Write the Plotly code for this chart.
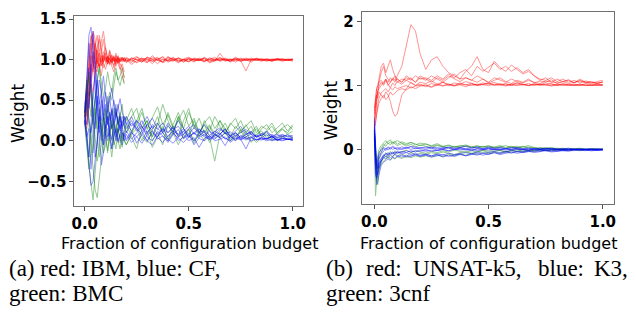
import plotly.graph_objects as go

# ---------------- Panel (a) data ----------------
x_a_full = [0.0, 0.01, 0.02, 0.03, 0.04, 0.05, 0.06, 0.07, 0.08, 0.09,
            0.10, 0.11, 0.12, 0.13, 0.14, 0.15, 0.16, 0.17, 0.18, 0.19,
            0.2, 0.225, 0.25, 0.275, 0.3, 0.325, 0.35, 0.375, 0.4, 0.425,
            0.45, 0.475, 0.5, 0.525, 0.55, 0.575, 0.6, 0.625, 0.65, 0.675,
            0.7, 0.725, 0.75, 0.775, 0.8, 0.825, 0.85, 0.875, 0.9, 0.925,
            0.95, 0.975, 1.0]
x_a_short = [0.0, 0.01, 0.02, 0.03, 0.04, 0.05, 0.06, 0.07, 0.08, 0.09,
             0.10, 0.11, 0.12, 0.13, 0.14, 0.15, 0.16, 0.17, 0.18, 0.19]

a_red = [
    [0.30, 0.55, 0.95, 1.25, 1.32, 1.10, 0.95, 1.02, 0.98, 1.05, 0.97, 1.03, 1.00, 0.96, 1.04, 0.99, 1.02, 0.97, 1.01, 1.00,
     0.98, 1.02, 1.00, 0.97, 1.03, 1.01, 0.99, 1.04, 0.98, 1.00, 1.02, 0.97, 1.01, 1.00, 0.99, 1.03, 0.98, 1.01, 1.00, 1.02, 0.99, 1.00, 0.98, 1.01, 1.00, 0.99, 1.01, 1.00, 0.99, 1.01, 1.00, 1.00, 1.00],
    [0.25, 0.40, 0.70, 0.95, 0.85, 1.15, 1.30, 1.05, 0.92, 0.98, 1.08, 0.95, 1.02, 0.99, 0.93, 1.05, 1.00, 0.98, 1.03, 0.97,
     1.01, 0.96, 1.03, 1.00, 0.98, 1.05, 0.99, 0.97, 1.02, 1.00, 0.96, 1.01, 1.03, 0.99, 1.00, 0.98, 1.02, 1.00, 0.99, 1.01, 0.97, 1.00, 1.02, 0.99, 1.00, 1.01, 0.99, 1.00, 0.98, 1.00, 1.01, 0.99, 0.99],
    [0.35, 0.30, 0.60, 0.80, 1.05, 0.90, 0.85, 1.10, 1.25, 1.35, 1.15, 1.00, 0.95, 1.05, 0.98, 1.02, 0.96, 1.01, 0.99, 1.03,
     0.97, 1.00, 1.04, 0.98, 1.01, 0.95, 1.02, 1.00, 0.99, 1.03, 0.98, 1.00, 1.01, 0.97, 1.02, 0.99, 1.00, 1.03, 0.98, 1.00, 1.01, 0.99, 1.00, 1.02, 0.99, 1.00, 1.01, 0.99, 1.00, 1.01, 1.00, 0.99, 1.01],
    [0.40, 0.20, 0.45, 0.75, 1.00, 1.20, 1.05, 0.90, 0.95, 1.10, 1.02, 0.94, 1.06, 0.98, 1.00, 0.95, 1.03, 1.00, 0.97, 1.02,
     1.00, 0.94, 0.99, 1.02, 0.97, 1.00, 1.03, 0.96, 1.00, 0.98, 1.02, 1.00, 0.97, 1.01, 0.99, 1.02, 1.00, 0.98, 1.08, 0.99, 1.00, 0.97, 1.01, 1.00, 0.99, 1.02, 1.00, 0.98, 1.00, 1.01, 0.99, 1.00, 1.00],
    [0.30, 0.65, 1.10, 1.30, 1.20, 0.95, 1.00, 1.08, 0.97, 1.02, 0.99, 1.04, 0.97, 1.00, 1.03, 0.98, 1.01, 0.99, 1.02, 0.98,
     1.03, 0.99, 0.97, 1.02, 1.00, 0.98, 1.01, 1.03, 0.97, 1.00, 1.02, 0.99, 0.98, 1.01, 1.00, 0.97, 1.02, 1.00, 0.99, 1.01, 0.98, 1.02, 1.00, 0.99, 1.01, 1.00, 0.98, 1.01, 1.00, 0.99, 1.01, 1.00, 0.98],
    [0.20, 0.35, 0.50, 0.70, 0.90, 1.00, 1.15, 1.25, 1.05, 0.90, 0.96, 1.04, 1.00, 0.97, 1.02, 1.00, 0.95, 1.01, 1.03, 0.99,
     0.96, 1.02, 1.00, 0.97, 1.03, 1.00, 0.95, 1.01, 0.99, 1.02, 0.97, 1.00, 1.01, 0.98, 1.00, 1.02, 0.96, 0.99, 1.01, 1.00, 0.98, 1.03, 0.99, 0.86, 1.00, 1.01, 0.99, 1.00, 0.98, 1.01, 1.00, 0.99, 1.00],
    [0.45, 0.60, 0.85, 1.05, 0.95, 0.88, 1.12, 1.00, 0.93, 1.05, 1.00, 0.97, 1.02, 1.06, 0.98, 1.00, 0.97, 1.03, 1.00, 0.98,
     1.02, 0.98, 1.01, 0.99, 0.96, 1.03, 1.00, 0.98, 1.04, 0.99, 1.00, 0.97, 1.02, 1.00, 0.99, 1.01, 0.97, 1.00, 1.02, 0.99, 1.00, 1.01, 0.98, 1.00, 1.02, 0.99, 1.00, 1.01, 0.99, 1.00, 0.99, 1.01, 1.00],
    [0.30, 0.45, 0.80, 1.15, 1.35, 1.25, 0.98, 0.92, 1.05, 0.97, 1.03, 0.99, 0.95, 1.02, 1.00, 0.97, 1.04, 0.98, 1.00, 1.02,
     0.99, 1.01, 0.96, 1.00, 1.02, 0.98, 1.00, 0.97, 1.03, 1.01, 0.99, 1.00, 0.98, 1.02, 1.01, 0.98, 1.00, 0.99, 1.03, 0.98, 1.00, 1.01, 0.99, 1.00, 0.97, 1.01, 1.00, 0.99, 1.01, 1.00, 0.98, 1.00, 1.01],
]
a_red_short = [
    [0.30, 0.50, 0.90, 1.20, 1.00, 0.80, 1.05, 1.30, 1.15, 0.95, 0.88, 1.00, 1.10, 0.92, 0.85, 0.98, 1.05, 0.90, 0.80, 0.72],
    [0.25, 0.15, 0.40, 0.70, 0.60, 0.85, 1.00, 0.90, 1.10, 1.25, 1.05, 0.95, 1.12, 1.00, 0.90, 1.08, 0.95, 0.88, 0.95, 0.85],
    [0.35, 0.70, 0.55, 0.95, 1.25, 1.10, 0.90, 0.95, 0.80, 1.00, 1.15, 1.02, 0.93, 0.98, 1.05, 0.92, 1.00, 0.95, 0.90, 0.78],
]
a_blue = [
    [0.30, 0.80, 1.30, 1.40, 1.10, 0.60, 0.30, 0.10, 0.40, 0.55, 0.30, 0.20, 0.35, 0.15, 0.25, 0.40, 0.20, 0.12, 0.25, 0.18,
     0.10, 0.22, 0.15, 0.08, 0.20, 0.12, 0.05, 0.15, 0.10, 0.18, 0.07, 0.12, 0.04, 0.10, 0.15, 0.06, 0.12, 0.03, 0.09, 0.14, 0.05, 0.10, 0.02, 0.08, 0.12, 0.04, 0.07, 0.02, 0.06, 0.03, 0.05, 0.02, 0.03],
    [0.25, 0.00, -0.30, -0.55, -0.50, -0.20, 0.10, 0.30, 0.15, -0.05, 0.20, 0.05, 0.10, -0.10, 0.05, 0.15, 0.00, 0.08, -0.05, 0.10,
     0.02, 0.12, -0.03, 0.08, 0.00, 0.10, 0.04, -0.02, 0.06, 0.12, 0.00, 0.05, 0.09, -0.05, 0.04, 0.08, 0.01, 0.06, 0.10, 0.02, 0.05, 0.00, 0.07, 0.03, 0.05, 0.01, 0.04, 0.02, 0.06, 0.01, 0.03, 0.02, 0.01],
    [0.35, 0.60, 0.40, 1.00, 1.35, 0.90, 0.50, 0.20, 0.00, 0.30, 0.45, 0.25, 0.10, 0.30, 0.50, 0.35, 0.20, 0.30, 0.15, 0.25,
     0.30, 0.18, 0.25, 0.12, 0.20, 0.28, 0.15, 0.10, 0.22, 0.14, 0.18, 0.08, 0.15, 0.20, 0.10, 0.13, 0.07, 0.12, 0.16, 0.09, 0.11, 0.06, 0.10, 0.14, 0.08, 0.05, 0.09, 0.06, 0.08, 0.04, 0.07, 0.05, 0.06],
    [0.30, 0.10, -0.20, 0.20, 0.60, 0.80, 0.40, 0.00, -0.30, -0.15, 0.10, 0.30, 0.05, -0.10, 0.15, 0.00, 0.10, 0.20, 0.05, 0.00,
     0.08, -0.02, 0.05, 0.12, 0.00, -0.05, 0.06, 0.10, 0.02, -0.03, 0.05, 0.08, 0.00, 0.04, -0.08, 0.03, 0.06, 0.00, 0.02, 0.05, -0.02, 0.03, 0.01, 0.04, 0.00, 0.02, 0.01, 0.03, 0.00, 0.02, 0.01, 0.02, 0.01],
    [0.20, 0.45, 0.90, 0.70, 0.35, 0.15, 0.45, 0.75, 0.60, 0.30, 0.15, 0.40, 0.55, 0.30, 0.20, 0.35, 0.25, 0.15, 0.30, 0.22,
     0.15, 0.25, 0.12, 0.20, 0.30, 0.15, 0.22, 0.10, 0.18, 0.12, 0.25, 0.15, 0.08, 0.16, 0.10, 0.20, 0.12, 0.08, 0.14, 0.10, 0.06, 0.12, 0.18, 0.08, 0.10, 0.05, 0.09, 0.12, 0.06, 0.08, 0.05, 0.07, 0.06],
    [0.40, 0.70, 1.20, 0.80, 0.20, -0.20, -0.05, 0.30, 0.50, 0.35, 0.10, 0.00, 0.20, 0.40, 0.25, 0.05, 0.15, 0.30, 0.10, 0.05,
     0.12, 0.02, 0.10, 0.18, 0.05, 0.00, 0.12, 0.06, -0.02, 0.08, 0.14, 0.03, 0.07, 0.00, 0.10, 0.05, 0.02, 0.08, 0.04, -0.06, 0.06, 0.02, 0.05, 0.01, 0.04, 0.07, 0.02, 0.03, 0.05, 0.01, 0.03, 0.02, 0.02],
    [0.30, 0.20, 0.50, 0.85, 1.10, 1.00, 0.70, 0.45, 0.60, 0.80, 0.55, 0.35, 0.50, 0.65, 0.45, 0.30, 0.40, 0.52, 0.35, 0.28,
     0.20, 0.30, 0.15, 0.25, 0.10, 0.18, 0.08, 0.15, 0.05, 0.12, 0.08, 0.15, 0.04, 0.10, 0.06, 0.12, 0.02, 0.08, 0.04, 0.10, 0.03, 0.07, 0.02, 0.05, 0.08, 0.01, 0.04, 0.02, 0.05, 0.01, 0.03, 0.02, 0.01],
    [0.25, 0.05, 0.15, -0.35, -0.10, 0.25, 0.55, 0.40, 0.10, -0.05, 0.15, 0.30, 0.10, 0.02, 0.20, 0.10, -0.02, 0.08, 0.15, 0.05,
     0.00, 0.10, 0.05, -0.03, 0.07, 0.12, 0.02, 0.06, 0.00, 0.09, 0.04, -0.02, 0.05, 0.10, 0.03, 0.00, 0.06, 0.02, 0.08, 0.03, 0.00, 0.05, 0.02, -0.10, 0.04, 0.01, 0.03, 0.00, 0.02, 0.01, 0.00, 0.02, 0.01],
    [0.35, 0.50, 0.25, 0.10, 0.30, 0.55, 0.75, 0.50, 0.25, 0.40, 0.60, 0.45, 0.25, 0.38, 0.20, 0.30, 0.45, 0.25, 0.18, 0.30,
     0.22, 0.12, 0.25, 0.18, 0.08, 0.20, 0.14, 0.22, 0.10, 0.16, 0.05, 0.12, 0.18, 0.08, 0.14, 0.10, 0.04, 0.12, 0.08, 0.15, 0.06, 0.10, 0.04, 0.08, 0.11, 0.05, 0.07, 0.10, 0.04, 0.06, 0.08, 0.05, 0.04],
]
a_green = [
    [0.30, 0.10, -0.30, -0.55, -0.73, -0.40, 0.00, 0.30, 0.10, -0.15, -0.05, 0.15, 0.00, -0.20, 0.05, 0.20, 0.00, -0.10, 0.10, 0.00,
     -0.05, 0.10, 0.20, 0.05, -0.02, 0.15, 0.30, 0.10, 0.00, 0.20, 0.35, 0.15, 0.05, 0.25, 0.10, 0.00, 0.18, 0.05, 0.12, 0.22, 0.08, 0.00, 0.15, 0.05, 0.10, 0.18, 0.06, 0.12, 0.02, 0.10, 0.15, 0.08, 0.12],
    [0.35, 0.60, 0.85, 0.55, 0.20, 0.40, 0.75, 0.90, 0.50, 0.20, 0.35, 0.55, 0.30, 0.15, 0.40, 0.25, 0.10, 0.30, 0.45, 0.20,
     0.10, 0.30, 0.40, 0.15, 0.25, 0.05, 0.20, 0.45, 0.25, 0.10, 0.30, 0.15, 0.35, 0.20, 0.05, 0.25, 0.12, 0.30, 0.18, 0.08, 0.22, 0.15, 0.25, 0.10, 0.18, 0.05, 0.15, 0.20, 0.10, 0.16, 0.22, 0.12, 0.20],
    [0.25, 0.00, -0.20, 0.10, 0.35, 0.05, -0.25, -0.10, 0.20, 0.30, 0.05, -0.15, 0.10, 0.25, 0.00, -0.10, 0.15, 0.05, -0.08, 0.10,
     0.20, 0.05, -0.10, 0.15, 0.25, 0.00, 0.10, -0.05, 0.20, 0.08, 0.30, 0.02, 0.15, -0.03, 0.10, 0.20, 0.05, -0.25, 0.08, 0.15, 0.00, 0.10, 0.04, 0.12, -0.02, 0.08, 0.12, 0.03, 0.06, 0.00, 0.05, 0.08, 0.03],
    [0.30, 0.50, 0.30, 0.05, -0.15, 0.20, 0.50, 0.35, 0.10, 0.25, 0.40, 0.20, 0.35, 0.15, 0.30, 0.45, 0.20, 0.35, 0.15, 0.30,
     0.25, 0.40, 0.20, 0.35, 0.15, 0.28, 0.42, 0.20, 0.32, 0.15, 0.25, 0.38, 0.18, 0.28, 0.10, 0.22, 0.30, 0.15, 0.25, 0.10, 0.20, 0.28, 0.12, 0.18, 0.25, 0.10, 0.18, 0.14, 0.22, 0.10, 0.16, 0.20, 0.14],
    [0.20, -0.10, -0.35, -0.15, 0.15, 0.40, 0.10, -0.20, -0.05, 0.20, 0.05, -0.12, 0.08, 0.20, -0.05, 0.05, 0.15, -0.02, 0.10, 0.02,
     -0.05, 0.08, 0.15, 0.00, 0.12, -0.08, 0.05, 0.18, 0.02, 0.10, -0.05, 0.08, 0.14, 0.00, 0.06, 0.12, -0.02, 0.08, 0.04, 0.10, 0.00, 0.06, 0.12, 0.02, 0.05, -0.02, 0.04, 0.08, 0.00, 0.04, 0.06, 0.02, 0.04],
    [0.40, 0.75, 0.55, 0.30, 0.60, 0.35, 0.15, 0.40, 0.25, 0.05, 0.20, 0.38, 0.15, 0.00, 0.22, 0.10, 0.30, 0.12, 0.00, 0.15,
     0.30, 0.10, 0.25, 0.40, 0.15, 0.05, 0.22, 0.12, 0.35, 0.18, 0.05, 0.25, 0.40, 0.15, 0.28, 0.10, 0.20, 0.08, 0.25, 0.15, 0.05, 0.18, 0.10, 0.20, 0.08, 0.15, 0.05, 0.12, 0.18, 0.08, 0.14, 0.10, 0.18],
]
a_green_short = [
    [0.30, 0.55, 0.80, 0.60, 0.35, 0.50, 0.75, 0.90, 0.70, 0.55, 0.65, 0.85, 0.70, 0.60, 0.80, 0.90, 0.75, 0.68, 0.80, 0.70],
    [0.25, 0.40, 0.20, -0.10, -0.40, -0.60, -0.70, -0.45, -0.20, 0.05, 0.25, 0.45, 0.60, 0.50, 0.70, 0.85, 0.75, 0.80, 0.90, 0.78],
]

# ---------------- Panel (b) data ----------------
x_b = [0.0, 0.005, 0.01, 0.015, 0.02, 0.03, 0.04, 0.05, 0.06, 0.07, 0.08, 0.09, 0.1, 0.12, 0.14, 0.16, 0.18, 0.2,
       0.225, 0.25, 0.275, 0.3, 0.325, 0.35, 0.375, 0.4, 0.425, 0.45, 0.475, 0.5, 0.525, 0.55, 0.575, 0.6,
       0.625, 0.65, 0.675, 0.7, 0.725, 0.75, 0.775, 0.8, 0.825, 0.85, 0.875, 0.9, 0.925, 0.95, 0.975, 1.0]

b_red = [
    [0.50, 0.70, 0.85, 0.90, 0.95, 1.00, 1.05, 1.10, 1.00, 1.05, 1.10, 1.05, 1.15, 1.30, 1.60, 1.95, 1.85, 1.50,
     1.25, 1.40, 1.45, 1.30, 1.20, 1.15, 1.10, 1.12, 1.08, 1.15, 1.10, 1.05, 1.12, 1.08, 1.05, 1.10, 1.06, 1.04, 1.08, 1.05, 1.03, 1.07, 1.05, 1.04, 1.06, 1.03, 1.05, 1.07, 1.04, 1.05, 1.03, 1.05],
    [0.60, 0.75, 0.85, 0.80, 0.90, 0.85, 0.80, 0.90, 0.85, 0.75, 0.60, 0.52, 0.55, 0.85, 0.95, 1.05, 1.00, 1.02,
     0.98, 1.03, 1.00, 1.05, 1.02, 1.00, 1.04, 1.01, 1.03, 1.00, 1.02, 1.04, 1.01, 1.03, 1.00, 1.02, 1.04, 1.01, 1.03, 1.00, 1.02, 1.01, 1.03, 1.00, 1.02, 1.01, 1.00, 1.02, 1.01, 1.00, 1.02, 1.01],
    [0.45, 0.55, 0.75, 0.95, 1.05, 1.20, 1.30, 1.15, 1.10, 1.05, 1.12, 1.08, 1.10, 1.05, 1.12, 1.08, 1.15, 1.10,
     1.12, 1.08, 1.15, 1.10, 1.18, 1.12, 1.20, 1.25, 1.15, 1.30, 1.22, 1.28, 1.35, 1.25, 1.30, 1.22, 1.28, 1.20, 1.25, 1.15, 1.10, 1.08, 1.12, 1.06, 1.10, 1.05, 1.08, 1.04, 1.07, 1.05, 1.03, 1.06],
    [0.55, 0.80, 0.95, 1.00, 1.10, 1.30, 1.35, 1.20, 1.30, 1.40, 1.25, 1.15, 1.10, 1.05, 1.15, 1.10, 1.05, 1.12,
     1.08, 1.15, 1.10, 1.05, 1.12, 1.18, 1.10, 1.22, 1.30, 1.45, 1.25, 1.20, 1.38, 1.28, 1.22, 1.32, 1.25, 1.18, 1.22, 1.15, 1.08, 1.12, 1.05, 1.10, 1.06, 1.09, 1.04, 1.08, 1.05, 1.06, 1.04, 1.05],
    [0.30, 0.45, 0.60, 0.70, 0.80, 0.88, 0.92, 0.95, 0.90, 0.96, 0.93, 0.98, 0.95, 0.97, 1.00, 0.96, 0.99, 1.00,
     1.01, 0.98, 1.02, 1.00, 1.01, 0.99, 1.02, 1.01, 1.00, 1.02, 1.01, 1.00, 1.02, 1.01, 1.02, 1.00, 1.01, 1.02, 1.00, 1.01, 1.02, 1.01, 1.00, 1.02, 1.01, 1.00, 1.01, 1.02, 1.00, 1.01, 1.00, 1.01],
    [0.35, 0.40, 0.55, 0.65, 0.72, 0.80, 0.85, 0.78, 0.82, 0.90, 0.85, 0.88, 0.92, 0.95, 0.93, 0.98, 0.95, 0.99,
     1.00, 0.97, 1.01, 0.99, 1.02, 1.00, 1.01, 0.98, 1.02, 1.00, 1.01, 1.03, 1.00, 1.01, 0.99, 1.02, 1.00, 1.01, 1.00, 1.02, 1.00, 1.01, 0.99, 1.01, 1.00, 1.01, 1.00, 1.00, 1.01, 1.00, 1.01, 1.00],
    [0.65, 0.85, 0.95, 1.00, 1.05, 1.08, 1.02, 1.10, 1.05, 1.12, 1.08, 1.15, 1.05, 1.10, 1.08, 1.12, 1.05, 1.15,
     1.10, 1.05, 1.12, 1.08, 1.15, 1.10, 1.06, 1.12, 1.08, 1.05, 1.10, 1.04, 1.08, 1.12, 1.06, 1.03, 1.08, 1.05, 1.10, 1.04, 1.07, 1.05, 1.09, 1.03, 1.06, 1.08, 1.04, 1.10, 1.05, 1.03, 1.06, 1.08],
    [0.40, 0.60, 0.80, 0.92, 0.98, 1.05, 1.00, 1.08, 1.02, 0.96, 1.04, 1.00, 1.06, 1.02, 1.08, 1.04, 1.00, 1.05,
     1.03, 1.07, 1.02, 1.05, 1.00, 1.04, 1.02, 1.06, 1.03, 1.01, 1.04, 1.02, 1.05, 1.01, 1.03, 1.00, 1.04, 1.02, 1.00, 1.03, 1.01, 1.04, 1.02, 1.00, 1.03, 1.01, 1.02, 1.00, 1.03, 1.01, 1.02, 1.01],
]
b_blue = [
    [0.40, -0.20, -0.45, -0.35, -0.25, -0.15, -0.10, -0.08, -0.05, -0.07, -0.04, -0.06, -0.03, -0.05, -0.02, -0.04, -0.02, -0.03,
     -0.01, -0.03, -0.02, 0.00, -0.02, -0.01, 0.01, -0.01, 0.00, -0.02, 0.00, 0.01, -0.01, 0.00, 0.01, -0.01, 0.00, 0.00, -0.01, 0.01, 0.00, -0.01, 0.00, 0.01, 0.00, -0.01, 0.00, 0.00, 0.01, 0.00, -0.01, 0.00],
    [0.30, -0.35, -0.55, -0.50, -0.40, -0.25, -0.20, -0.18, -0.15, -0.17, -0.12, -0.14, -0.10, -0.12, -0.09, -0.11, -0.08, -0.10,
     -0.08, -0.10, -0.07, -0.09, -0.06, -0.08, -0.07, -0.05, -0.07, -0.04, -0.06, -0.05, -0.03, -0.05, -0.04, -0.02, -0.04, -0.03, -0.02, -0.03, -0.01, -0.02, -0.03, -0.01, -0.02, -0.01, -0.02, 0.00, -0.01, -0.02, -0.01, -0.01],
    [0.50, 0.10, -0.30, -0.20, -0.10, -0.05, 0.02, -0.02, 0.03, 0.00, 0.04, 0.01, 0.03, 0.00, 0.02, 0.04, 0.01, 0.03,
     0.02, 0.04, 0.01, 0.03, 0.02, 0.00, 0.03, 0.01, 0.02, 0.04, 0.01, 0.02, 0.00, 0.02, 0.01, 0.03, 0.01, 0.00, 0.02, 0.01, 0.00, 0.02, 0.01, 0.00, 0.01, 0.00, 0.01, 0.00, 0.01, 0.00, 0.00, 0.00],
    [0.20, -0.40, -0.45, -0.30, -0.22, -0.18, -0.12, -0.15, -0.10, -0.13, -0.10, -0.08, -0.11, -0.09, -0.12, -0.10, -0.08, -0.11,
     -0.09, -0.12, -0.10, -0.08, -0.11, -0.09, -0.07, -0.10, -0.08, -0.06, -0.09, -0.07, -0.05, -0.08, -0.06, -0.04, -0.06, -0.05, -0.03, -0.05, -0.04, -0.02, -0.04, -0.03, -0.02, -0.03, -0.01, -0.02, -0.01, -0.02, -0.01, -0.01],
    [0.35, -0.10, -0.25, -0.15, -0.05, 0.00, 0.03, 0.01, 0.04, 0.02, 0.05, 0.03, 0.01, 0.04, 0.02, 0.05, 0.03, 0.02,
     0.04, 0.02, 0.03, 0.01, 0.04, 0.02, 0.03, 0.05, 0.02, 0.03, 0.01, 0.04, 0.02, 0.03, 0.01, 0.02, 0.03, 0.01, 0.02, 0.00, 0.02, 0.01, 0.02, 0.00, 0.01, 0.02, 0.00, 0.01, 0.00, 0.01, 0.00, 0.01],
    [0.45, -0.05, -0.35, -0.40, -0.30, -0.18, -0.10, -0.06, -0.09, -0.05, -0.07, -0.04, -0.06, -0.03, -0.05, -0.02, -0.04, -0.01,
     -0.03, -0.01, -0.02, 0.00, -0.02, 0.01, -0.01, 0.00, -0.02, 0.01, 0.00, -0.01, 0.01, 0.00, -0.01, 0.00, 0.01, -0.01, 0.00, 0.00, -0.01, 0.00, 0.01, 0.00, -0.01, 0.00, 0.00, 0.01, 0.00, -0.01, 0.00, 0.00],
    [0.25, -0.25, -0.40, -0.28, -0.20, -0.14, -0.08, -0.12, -0.06, -0.09, -0.05, -0.08, -0.04, -0.07, -0.05, -0.08, -0.06, -0.09,
     -0.07, -0.10, -0.08, -0.12, -0.09, -0.11, -0.08, -0.10, -0.07, -0.09, -0.06, -0.08, -0.05, -0.07, -0.04, -0.06, -0.03, -0.05, -0.04, -0.02, -0.03, -0.01, -0.02, -0.03, -0.01, -0.02, 0.00, -0.01, -0.02, 0.00, -0.01, -0.01],
    [0.30, 0.00, -0.20, -0.30, -0.15, -0.08, -0.02, 0.02, -0.01, 0.03, 0.00, 0.02, -0.01, 0.01, 0.03, 0.00, 0.02, 0.01,
     0.00, 0.02, -0.01, 0.01, 0.03, 0.00, 0.02, 0.01, -0.01, 0.01, 0.00, 0.02, 0.00, -0.01, 0.01, 0.00, 0.02, 0.00, -0.01, 0.01, 0.00, 0.01, 0.00, -0.01, 0.00, 0.01, 0.00, 0.00, -0.01, 0.00, 0.01, 0.00],
]
b_green = [
    [0.20, -0.73, -0.50, -0.30, -0.15, -0.05, 0.05, 0.10, 0.12, 0.15, 0.10, 0.13, 0.08, 0.12, 0.09, 0.11, 0.07, 0.10,
     0.08, 0.06, 0.09, 0.05, 0.07, 0.04, 0.06, 0.05, 0.03, 0.05, 0.04, 0.06, 0.03, 0.04, 0.02, 0.04, 0.03, 0.05, 0.02, 0.03, 0.01, 0.02, 0.03, 0.01, 0.02, 0.00, 0.01, 0.02, 0.00, 0.01, 0.00, 0.01],
    [0.25, -0.30, -0.50, -0.40, -0.30, -0.22, -0.18, -0.15, -0.12, -0.16, -0.13, -0.15, -0.12, -0.14, -0.11, -0.13, -0.10, -0.12,
     -0.10, -0.12, -0.09, -0.11, -0.08, -0.10, -0.07, -0.09, -0.06, -0.08, -0.05, -0.07, -0.04, -0.06, -0.03, -0.05, -0.03, -0.04, -0.02, -0.03, -0.02, -0.01, -0.02, -0.01, 0.00, -0.01, 0.00, -0.01, 0.00, 0.00, -0.01, 0.00],
    [0.15, -0.10, -0.35, -0.20, -0.08, 0.02, 0.08, 0.05, 0.10, 0.07, 0.12, 0.09, 0.06, 0.09, 0.05, 0.08, 0.04, 0.07,
     0.05, 0.03, 0.06, 0.04, 0.02, 0.05, 0.03, 0.06, 0.04, 0.02, 0.05, 0.03, 0.04, 0.06, 0.03, 0.05, 0.02, 0.04, 0.06, 0.03, 0.01, 0.02, 0.01, 0.00, 0.01, 0.00, 0.01, 0.00, 0.00, 0.01, 0.00, 0.00],
    [0.30, -0.15, -0.45, -0.55, -0.35, -0.20, -0.12, -0.05, -0.10, -0.03, -0.07, -0.02, -0.06, -0.04, -0.01, -0.05, -0.02, -0.04,
     -0.06, -0.03, -0.05, -0.02, -0.04, -0.01, -0.03, -0.05, -0.02, -0.04, -0.01, -0.03, 0.00, -0.02, -0.04, -0.01, -0.03, 0.00, -0.02, -0.01, 0.00, -0.02, -0.01, 0.00, -0.01, 0.00, 0.00, -0.01, 0.00, 0.00, 0.00, 0.00],
    [0.20, -0.05, -0.25, -0.30, -0.25, -0.18, -0.15, -0.10, -0.14, -0.08, -0.12, -0.06, -0.10, -0.07, -0.11, -0.05, -0.09, -0.06,
     -0.08, -0.05, -0.07, -0.04, -0.06, -0.08, -0.05, -0.03, -0.06, -0.04, -0.02, -0.05, -0.03, -0.01, -0.04, -0.02, 0.00, -0.03, -0.01, -0.02, 0.00, -0.01, 0.00, -0.01, 0.00, 0.00, -0.01, 0.00, 0.00, 0.00, 0.00, 0.00],
    [0.25, 0.05, -0.20, -0.10, 0.00, 0.06, 0.10, 0.14, 0.09, 0.12, 0.08, 0.11, 0.14, 0.10, 0.07, 0.11, 0.08, 0.06,
     0.09, 0.05, 0.07, 0.04, 0.06, 0.03, 0.05, 0.07, 0.04, 0.06, 0.03, 0.05, 0.02, 0.04, 0.06, 0.03, 0.05, 0.02, 0.04, 0.01, 0.03, 0.02, 0.01, 0.02, 0.00, 0.01, 0.00, 0.01, 0.00, 0.00, 0.01, 0.00],
]

x_ticks = [0.0, 0.5, 1.0]
y_ticks_a = [-0.5, 0.0, 0.5, 1.0, 1.5]
y_ticks_b = [0, 1, 2]

caption_a = ["(a) red: IBM, blue: CF,", "green: BMC"]
caption_b_words = ["(b)", "red:", "UNSAT-k5,", "blue:", "K3,"]
caption_b_line2 = "green: 3cnf"

# sanity checks on lengths
for grp, xs in [(a_red, x_a_full), (a_blue, x_a_full), (a_green, x_a_full),
                (a_red_short, x_a_short), (a_green_short, x_a_short),
                (b_red, x_b), (b_blue, x_b), (b_green, x_b)]:
    for s in grp:
        assert len(s) == len(xs), (len(s), len(xs), s[:3])

W, H = 636, 316
fig = go.Figure()

def add_lines(series, xs, color, xa, ya):
    for s in series:
        fig.add_trace(go.Scatter(x=xs, y=s, mode="lines", xaxis=xa, yaxis=ya,
                                 line=dict(color=color, width=1), opacity=0.42,
                                 showlegend=False, hoverinfo="skip"))

RED, BLUE, GREEN = "#ff0000", "#0000ff", "#008000"
add_lines(a_red, x_a_full, RED, "x", "y")
add_lines(a_red_short, x_a_short, RED, "x", "y")
add_lines(a_green, x_a_full, GREEN, "x", "y")
add_lines(a_green_short, x_a_short, GREEN, "x", "y")
add_lines(a_blue, x_a_full, BLUE, "x", "y")

add_lines(b_red, x_b, RED, "x2", "y2")
add_lines(b_green, x_b, GREEN, "x2", "y2")
add_lines(b_blue, x_b, BLUE, "x2", "y2")

tickfont = dict(family="DejaVu Sans", size=15, color="black", weight="bold")
axis_common = dict(showgrid=False, zeroline=False, showline=True, mirror=True,
                   linecolor="#707070", linewidth=1, ticks="outside", ticklen=4,
                   tickwidth=1, tickcolor="#505050", tickfont=tickfont)

fig.update_layout(
    width=W, height=H, margin=dict(l=0, r=0, t=0, b=0),
    paper_bgcolor="white", plot_bgcolor="white",
    xaxis=dict(domain=[72 / W, 303 / W], range=[-0.05, 1.05], tickvals=x_ticks,
               tickformat=".1f", anchor="y", **axis_common),
    yaxis=dict(domain=[1 - 204 / H, 1 - 11 / H], range=[-0.80, 1.54], tickvals=y_ticks_a,
               tickformat=".1f", anchor="x", **axis_common),
    xaxis2=dict(domain=[362 / W, 617 / W], range=[-0.056, 1.05], tickvals=x_ticks,
                tickformat=".1f", anchor="y2", **axis_common),
    yaxis2=dict(domain=[1 - 202 / H, 1 - 7 / H], range=[-0.85, 2.15], tickvals=y_ticks_b,
                tickformat="d", anchor="x2", **axis_common),
)

lab_font = dict(family="DejaVu Sans", size=16, color="black")
weight_font = dict(family="DejaVu Sans", size=17, color="black")
cap_font = dict(family="Liberation Serif", size=23, color="black")

def ann(text, px, py, font, xanchor="center", yanchor="middle", angle=0):
    fig.add_annotation(text=text, x=px / W, y=1 - py / H, xref="paper", yref="paper",
                       showarrow=False, font=font, xanchor=xanchor, yanchor=yanchor,
                       textangle=angle, borderpad=0)

ann("Weight", 15, 110, weight_font, angle=-90)
ann("Weight", 331, 107, weight_font, angle=-90)
ann("Fraction of configuration budget", 188, 242, lab_font)
ann("Fraction of configuration budget", 490, 242, lab_font)

ann(caption_a[0], 5, 268, cap_font, xanchor="left")
ann(caption_a[1], 5, 293, cap_font, xanchor="left")
for word, px in zip(caption_b_words, [325, 365, 413, 539, 632]):
    ann(word, px, 268, cap_font, xanchor="right" if word == "K3," else "left")
ann(caption_b_line2, 325, 293, cap_font, xanchor="left")

fig.write_html("out.html", config={"displayModeBar": False},
               post_script="document.body.style.margin='0';document.body.style.overflow='hidden';")
